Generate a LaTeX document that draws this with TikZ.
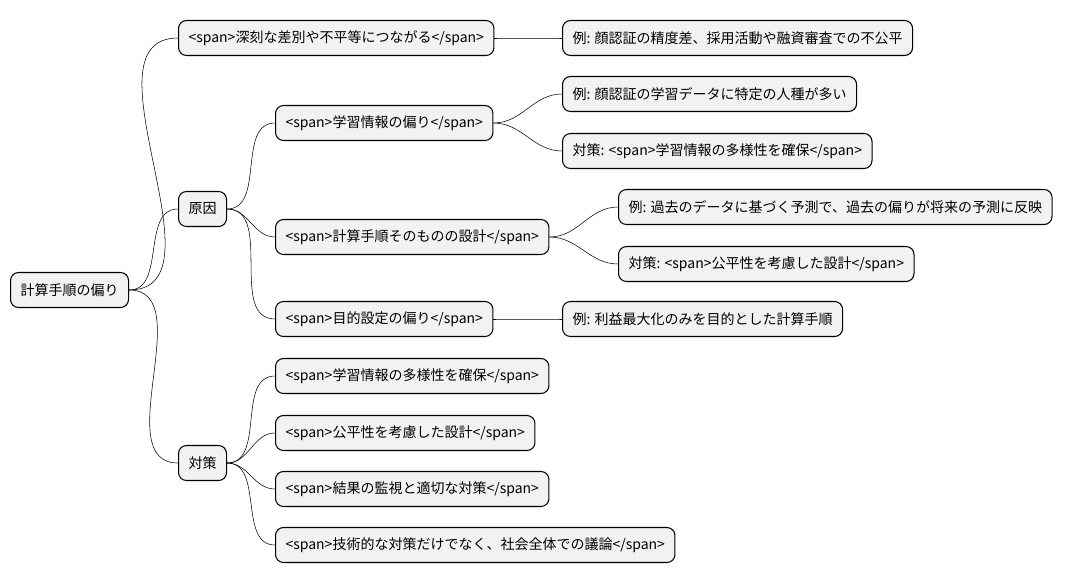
\documentclass[tikz,border=0pt]{standalone}
\usepackage{fontspec}
\setmainfont{Noto Sans CJK JP}
\usetikzlibrary{positioning}
\tikzset{
  box/.style={draw, thick, rounded corners=6pt, fill=gray!10, anchor=west,
    minimum height=35*0.75pt, inner xsep=7.5pt, font=\fontsize{10.5}{12}\selectfont},
  link/.style={thin}
}
\begin{document}
\begin{tikzpicture}[x=0.75pt, y=-0.75pt]
\useasboundingbox (0,0) rectangle (1065,583);
% root and first level
\node[box] (root) at (10,290) {計算手順の偏り};
\node[box] (sabetsu) at (178,38) {<span>深刻な差別や不平等につながる</span>};
\node[box] (genin) at (178,209) {原因};
\node[box] (taisaku) at (178,463) {対策};
% causes
\node[box] (gakushu) at (275,123) {<span>学習情報の偏り</span>};
\node[box] (sekkei) at (275,237) {<span>計算手順そのものの設計</span>};
\node[box] (mokuteki) at (275,319) {<span>目的設定の偏り</span>};
% examples
\node[box] (rei1) at (562,38) {例: 顔認証の精度差、採用活動や融資審査での不公平};
\node[box] (rei2) at (562,94) {例: 顔認証の学習データに特定の人種が多い};
\node[box] (tai2) at (562,151) {対策: <span>学習情報の多様性を確保</span>};
\node[box] (rei3) at (618,207) {例: 過去のデータに基づく予測で、過去の偏りが将来の予測に反映};
\node[box] (tai3) at (618,264) {対策: <span>公平性を考慮した設計</span>};
\node[box] (rei4) at (562,319) {例: 利益最大化のみを目的とした計算手順};
% countermeasures
\node[box] (t1) at (275,376) {<span>学習情報の多様性を確保</span>};
\node[box] (t2) at (275,433) {<span>公平性を考慮した設計</span>};
\node[box] (t3) at (275,489) {<span>結果の監視と適切な対策</span>};
\node[box] (t4) at (275,545) {<span>技術的な対策だけでなく、社会全体での議論</span>};
% connectors
\foreach \a/\b in {root/sabetsu, root/genin, root/taisaku,
  genin/gakushu, genin/sekkei, genin/mokuteki,
  sabetsu/rei1, gakushu/rei2, gakushu/tai2, sekkei/rei3, sekkei/tai3, mokuteki/rei4,
  taisaku/t1, taisaku/t2, taisaku/t3, taisaku/t4}
  \draw[link] (\a.east) to[out=0, in=180] (\b.west);
\end{tikzpicture}
\end{document}
